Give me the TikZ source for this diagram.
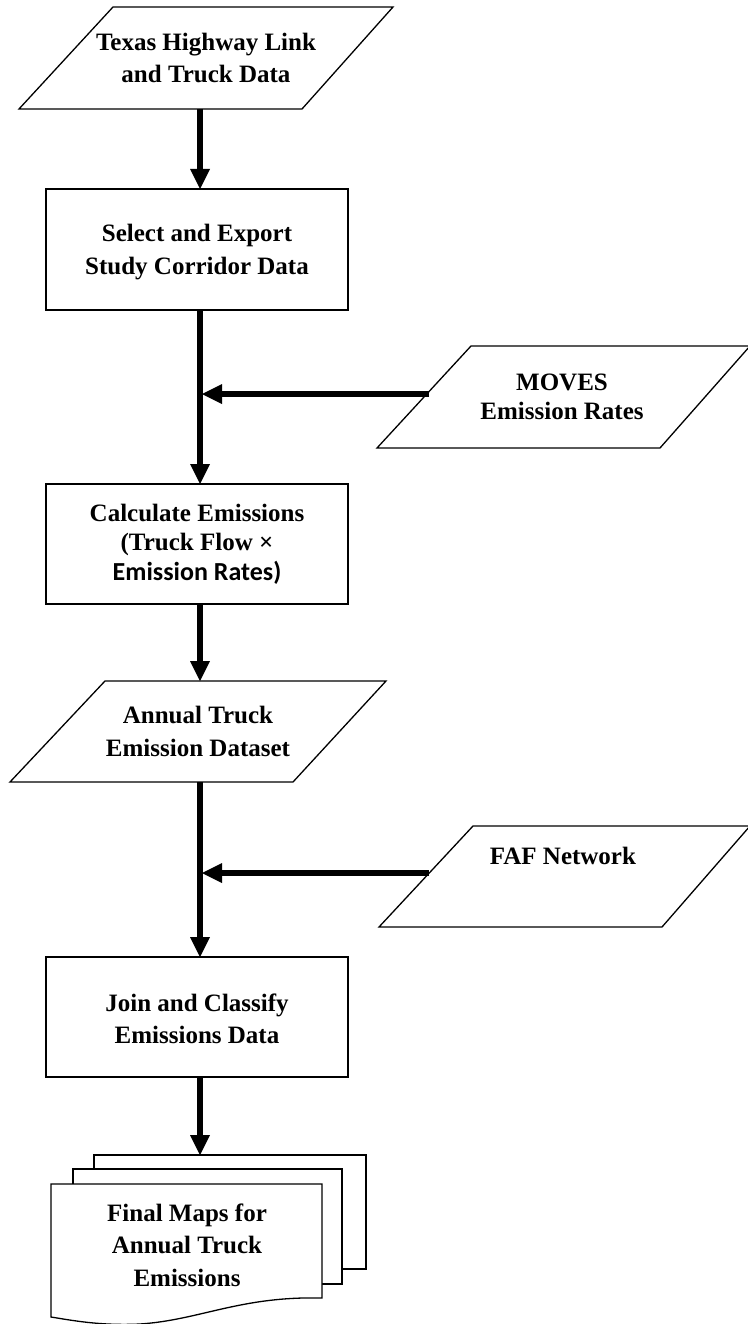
\documentclass[tikz,border=0pt]{standalone}
\usepackage{fontspec}
\setmainfont{Liberation Serif}
\newfontfamily\calfont{Carlito}
\usetikzlibrary{shapes.geometric,arrows.meta}
\begin{document}
\begin{tikzpicture}[x=1pt,y=-1pt,
  txt/.style={align=center,font=\bfseries\fontsize{25}{32.5}\selectfont},
  para/.style={txt,rectangle,minimum height=102pt,minimum width=374pt,inner sep=0pt,outer sep=0pt},
  parashape/.style={draw,line width=1.3pt,fill=white,line join=miter},
  box/.style={txt,draw,line width=1.3pt,fill=white,minimum width=302pt,
    minimum height=121pt,inner sep=0pt,outer sep=0pt},
  page/.style={draw,line width=1.3pt,fill=white},
  arr/.style={line width=6.5pt,-{Triangle[width=20pt,length=20pt,line width=0pt]}}
]
\useasboundingbox (0,0) rectangle (747,1324);
\coordinate (col) at (200,0);

% parallelogram outlines (drawn first, text nodes on top)
\coordinate (txc) at (206,58);
\coordinate (mvc) at (562,397);
\coordinate (anc) at (198,731.5);
\coordinate (fafc) at (563,876.5);
\draw[parashape] (113,7) -- (393,7) -- (302,109) -- (19,109) -- cycle;
\draw[parashape] (471,346) -- (750,346) -- (660,448) -- (377,448) -- cycle;
\draw[parashape] (105,681) -- (386,681) -- (293,782) -- (10,782) -- cycle;
\draw[parashape] (473,826) -- (750,826) -- (662,927) -- (379,927) -- cycle;

\node[para] (tx) at (txc) {Texas Highway Link\\and Truck Data};
\node[box] (r1) at (197,249.5) {\rule{0pt}{22pt}Select and Export\\Study Corridor Data};
\node[para,minimum width=370pt,font=\bfseries\fontsize{25}{29}\selectfont] (mv) at (mvc) {MOVES\\Emission Rates};
\node[box,minimum height=120pt,font=\bfseries\fontsize{25}{29.5}\selectfont] (r2) at (197,544) {Calculate Emissions\\(Truck Flow ×\\{\calfont\fontsize{26}{29.5}\selectfont Emission Rates)}};
\node[para,minimum width=376pt,minimum height=101pt] (an) at (anc) {Annual Truck\\Emission Dataset};
\node[para,minimum width=368pt,minimum height=101pt] (faf) at (fafc) {FAF Network\\\strut};
\node[box,minimum height=120pt] (r3) at (197,1017) {\rule{0pt}{21pt}Join and Classify\\Emissions Data};

% document stack
\draw[page] (94,1155) rectangle (366,1269);
\draw[page] (73,1169) rectangle (342,1284);
\draw[page] (51,1184) -- (322,1184) -- (322,1298)
  .. controls (240,1296) and (200,1320) .. (140,1324)
  .. controls (100,1326) and (70,1320) .. (51,1317) -- cycle;
\node[txt] (fm) at (187,1245) {Final Maps for\\Annual Truck\\Emissions};
\coordinate (stack) at (200,1155);

% connectors
\draw[arr] (col |- tx.south) -- (col |- r1.north);
\draw[arr] (col |- r1.south) -- (col |- r2.north);
\draw[arr] ([xshift=52pt,yshift=3pt]mv.west) -- ([xshift=2pt,yshift=3pt]col |- mv.west);
\draw[arr] (col |- r2.south) -- (col |- an.north);
\draw[arr] (col |- an.south) -- (col |- r3.north);
\draw[arr] ([xshift=50pt,yshift=3.5pt]faf.west) -- ([xshift=2pt,yshift=3.5pt]col |- faf.west);
\draw[arr] (col |- r3.south) -- (stack);
\end{tikzpicture}
\end{document}
